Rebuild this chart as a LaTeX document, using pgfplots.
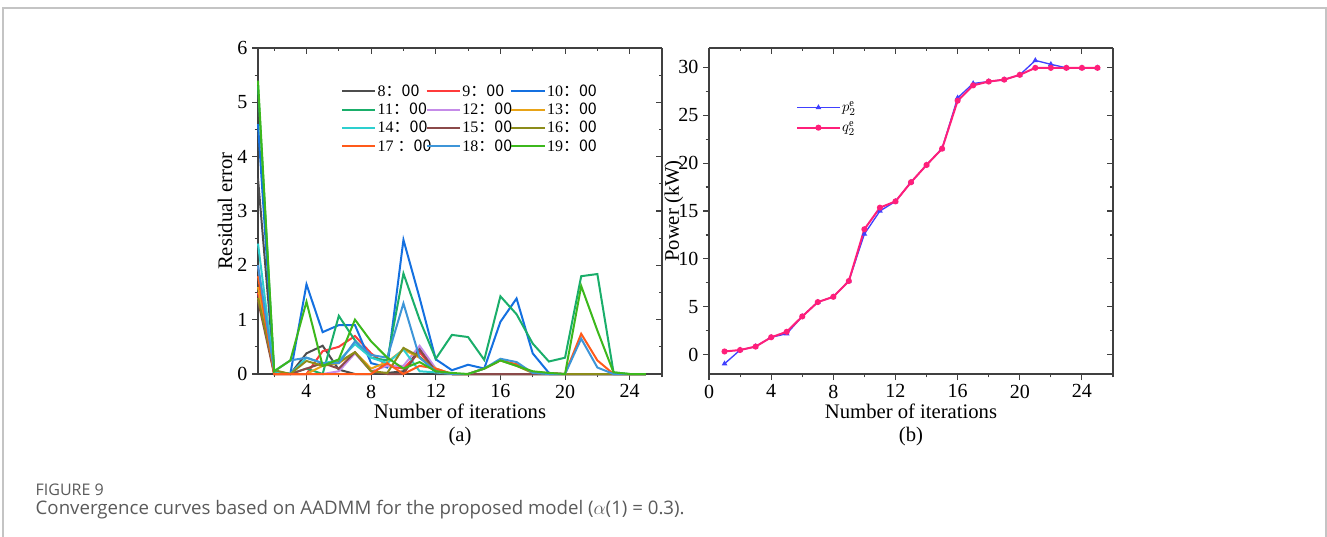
\documentclass[border=0pt]{standalone}
\usepackage{pgfplots}
\usepackage{pgfplotstable}
\pgfplotsset{compat=1.18}
\usepackage{fontspec}
\setmainfont{Liberation Serif}
\newfontfamily\capfont{Open Sans}
\newfontfamily\cjk{Noto Sans CJK SC}

\definecolor{cEight}{HTML}{4D4D4D}
\definecolor{cNine}{HTML}{FF3B3B}
\definecolor{cTen}{HTML}{1470E0}
\definecolor{cEleven}{HTML}{1AAE6A}
\definecolor{cTwelve}{HTML}{C58BE8}
\definecolor{cThirteen}{HTML}{E8A317}
\definecolor{cFourteen}{HTML}{2DCFCF}
\definecolor{cFifteen}{HTML}{8B4A4A}
\definecolor{cSixteen}{HTML}{8C8C1A}
\definecolor{cSeventeen}{HTML}{FF5A1A}
\definecolor{cEighteen}{HTML}{3D95D8}
\definecolor{cNineteen}{HTML}{3CB81C}
\definecolor{pblue}{HTML}{4040FF}
\definecolor{qpink}{HTML}{FF1F7A}
\definecolor{framegray}{HTML}{C4C4C4}
\definecolor{capgray}{HTML}{5A5A5A}

% legend text cell of fixed width, left aligned
\newcommand{\hr}[1]{\makebox[35pt][l]{#1}}

% residual error per hour, iterations 1..25
\pgfplotstableread{
it s8 s9 s10 s11 s12 s13 s14 s15 s16 s17 s18 s19
1 3.6 1.5 4.6 5.3 2.0 1.6 2.4 1.35 1.4 1.8 2.0 5.4
2 0.05 0 0.05 0.05 0 0 0.05 0 0.07 0 0.05 0.05
3 0 0 0 0 0 0 0 0 0 0 0.25 0.25
4 0.38 0 1.65 0.1 0 0 0.3 0.1 0.24 0 0.3 1.33
5 0.52 0.42 0.77 0 0 0.15 0.2 0.2 0.15 0 0.2 0.15
6 0.08 0.5 0.9 1.07 0.05 0.2 0.25 0.1 0.22 0 0.2 0.27
7 0 0.7 0.9 0.62 0.38 0.4 0.55 0.4 0.4 0 0.6 1.0
8 0 0.38 0.2 0.3 0.05 0.1 0.3 0.05 0.05 0 0.35 0.6
9 0.02 0.15 0.12 0.25 0.15 0.22 0.2 0 0.02 0.2 0.3 0.3
10 0.05 0.1 2.47 1.85 0.15 0.45 0.45 0 0.48 0 1.3 0.1
11 0.47 0.4 1.4 1.0 0.52 0.3 0.05 0.45 0.32 0.15 0.3 0.22
12 0 0.05 0.27 0.28 0.1 0.1 0.03 0.05 0.05 0.1 0.05 0.05
13 0 0 0.07 0.72 0 0 0 0 0 0 0 0.02
14 0 0 0.17 0.68 0 0 0 0 0 0 0 0
15 0 0 0.1 0.26 0 0 0 0 0.1 0.1 0.1 0.1
16 0 0 0.96 1.43 0 0 0 0 0.25 0.25 0.28 0.25
17 0 0 1.39 1.1 0 0 0 0 0.15 0.18 0.22 0.15
18 0 0 0.38 0.56 0 0 0 0 0.02 0.03 0.02 0.05
19 0 0 0.02 0.23 0 0 0 0 0 0.02 0 0.02
20 0 0 0 0.3 0 0 0 0 0 0 0 0
21 0 0 0 1.8 0 0 0 0 0 0.74 0.65 1.62
22 0 0 0 1.84 0 0 0 0 0 0.25 0.12 0.8
23 0 0 0 0.03 0 0 0 0 0 0 0 0.03
24 0 0 0 0 0 0 0 0 0 0 0 0
25 0 0 0 0 0 0 0 0 0 0 0 0
}\residual

% power p_2^e and q_2^e
\pgfplotstableread{
it p q
1 -0.93 0.35
2 0.5 0.5
3 0.86 0.86
4 1.83 1.83
5 2.2 2.4
6 4.0 4.0
7 5.5 5.5
8 6.05 6.05
9 7.7 7.7
10 12.6 13.1
11 15.0 15.35
12 16.0 16.0
13 18.0 18.0
14 19.8 19.8
15 21.5 21.5
16 26.8 26.5
17 28.3 28.1
18 28.5 28.5
19 28.7 28.7
20 29.2 29.2
21 30.7 29.93
22 30.3 29.93
23 29.93 29.93
24 29.93 29.93
25 29.93 29.93
}\power

\pgfplotsset{
  panel/.style={scale only axis, width=303pt, height=244.5pt,
    axis line style={line width=0.8pt, black!75, -},
    tick style={line width=0.8pt, black!75},
    major tick length=4.5pt, minor tick length=2.5pt,
    /pgf/number format/assume math mode=true,
    tick label style={font=\fontsize{15}{15}\selectfont},
    clip=false},
  outer/.style={panel, axis x line*=bottom, axis y line*=left, tick align=outside},
  inner/.style={panel, axis x line*=top, axis y line*=right, tick align=inside,
    xticklabels={}, yticklabels={}},
  leftax/.style={xmin=1, xmax=26, ymin=0, ymax=6,
    xtick={4,8,...,24}, minor xtick={2,6,...,26},
    ytick={0,1,...,6}, minor ytick={0.5,1.5,...,5.5}},
  rightax/.style={xmin=0, xmax=26, ymin=-2, ymax=32,
    xtick={0,4,...,24}, minor xtick={2,6,...,26},
    ytick={0,5,...,30}, minor ytick={2.5,7.5,...,27.5}},
  rline/.style={line width=1.5pt, no markers},
}

\begin{document}
\begin{tikzpicture}[x=0.75pt,y=0.75pt]
\useasboundingbox (0,0) rectangle (1327,536);
\draw[framegray, line width=1.5pt] (3,-10) -- (3,528) -- (1326,528) -- (1326,-10);

% (a) residual error
\begin{axis}[outer, leftax, at={(193.5pt,121.5pt)}, anchor=south west,
  legend columns=3, legend cell align=left,
  legend style={draw=none, fill=none, at={(0.195,0.905)}, anchor=north west,
    font=\fontsize{12}{12}\selectfont, row sep=-0.5pt,
    nodes={inner xsep=1pt, inner ysep=2pt},
    /tikz/every odd column/.append style={column sep=0pt},
    /tikz/every even column/.append style={column sep=0pt}},
  legend image code/.code={\draw[#1] (0pt,0pt) -- (25pt,0pt);}]
\addplot[rline, cEight] table[x=it, y=s8] {\residual};
\addlegendentry{\hr{8\cjk{：}00}}
\addplot[rline, cNine] table[x=it, y=s9] {\residual};
\addlegendentry{\hr{9\cjk{：}00}}
\addplot[rline, cTen] table[x=it, y=s10] {\residual};
\addlegendentry{\hr{10\cjk{：}00}}
\addplot[rline, cEleven] table[x=it, y=s11] {\residual};
\addlegendentry{\hr{11\cjk{：}00}}
\addplot[rline, cTwelve] table[x=it, y=s12] {\residual};
\addlegendentry{\hr{12\cjk{：}00}}
\addplot[rline, cThirteen] table[x=it, y=s13] {\residual};
\addlegendentry{\hr{13\cjk{：}00}}
\addplot[rline, cFourteen] table[x=it, y=s14] {\residual};
\addlegendentry{\hr{14\cjk{：}00}}
\addplot[rline, cFifteen] table[x=it, y=s15] {\residual};
\addlegendentry{\hr{15\cjk{：}00}}
\addplot[rline, cSixteen] table[x=it, y=s16] {\residual};
\addlegendentry{\hr{16\cjk{：}00}}
\addplot[rline, cSeventeen] table[x=it, y=s17] {\residual};
\addlegendentry{\hr{17 \cjk{：}00}}
\addplot[rline, cEighteen] table[x=it, y=s18] {\residual};
\addlegendentry{\hr{18\cjk{：}00}}
\addplot[rline, cNineteen] table[x=it, y=s19] {\residual};
\addlegendentry{\hr{19\cjk{：}00}}
\end{axis}
\begin{axis}[inner, leftax, at={(193.5pt,121.5pt)}, anchor=south west]
\end{axis}

% (b) power
\begin{axis}[outer, rightax, at={(531.75pt,121.5pt)}, anchor=south west,
  legend cell align=left,
  legend style={draw=none, fill=none, at={(0.205,0.845)}, anchor=north west,
    font=\fontsize{11}{11}\selectfont, row sep=6pt,
    nodes={inner xsep=1pt, inner ysep=0pt}},
  legend image code/.code={\draw[#1, mark repeat=2, mark phase=2]
    plot coordinates {(0pt,0pt) (16pt,0pt) (32pt,0pt)};}]
\addplot[pblue, line width=1pt, mark=triangle*, mark size=1.5pt] table[x=it, y=p] {\power};
\addlegendentry{$p_2^{\mathrm{e}}$}
\addplot[qpink, line width=1.5pt, mark=*, mark size=1.5pt] table[x=it, y=q] {\power};
\addlegendentry{$q_2^{\mathrm{e}}$}
\end{axis}
\begin{axis}[inner, rightax, at={(531.75pt,121.5pt)}, anchor=south west]
\end{axis}

\begin{scope}[every node/.style={font=\fontsize{15.5}{18}\selectfont}]
\node at (460,125) {Number of iterations};
\node at (460,99) {(a)};
\node at (911,125) {Number of iterations};
\node at (911,99) {(b)};
\node[rotate=90] at (225,325) {Residual error};
\node[rotate=90] at (674,325) {Power (kW)};
\end{scope}

\node[anchor=west, text=capgray, font=\capfont\fontsize{12}{14}\selectfont] at (31,46) {FIGURE 9};
\node[anchor=west, text=capgray, font=\capfont\fontsize{14}{16}\selectfont] at (31,26)
  {Convergence curves based on AADMM for the proposed model ($\alpha$(1) = 0.3).};
\end{tikzpicture}
\end{document}
